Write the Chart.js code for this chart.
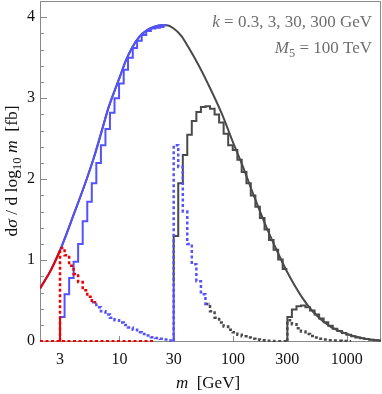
<!DOCTYPE html>
<html>
<head>
<meta charset="utf-8">
<script src="https://cdn.jsdelivr.net/npm/chart.js@4.4.0/dist/chart.umd.min.js"></script>
<style>
  html, body { margin: 0; padding: 0; background: #fff; }
</style>
</head>
<body>
<canvas id="chart" width="382" height="394"></canvas>
<script>
// smooth continuum curve (m in GeV, dsigma/dlog10 m in fb)
const envM = [2, 2.5, 3, 4, 5, 6, 7, 8, 10, 11.5, 13, 15, 17.5, 20, 23, 26, 30, 35, 40, 50, 60, 80, 100, 120, 150, 200, 250, 300, 400, 500, 700, 1000, 1400, 2000];
const envY = [0.65, 0.88, 1.12, 1.58, 1.95, 2.28, 2.6, 2.88, 3.25, 3.48, 3.63, 3.76, 3.84, 3.88, 3.9, 3.9, 3.86, 3.77, 3.64, 3.40, 3.18, 2.80, 2.45, 2.18, 1.82, 1.38, 1.08, 0.85, 0.55, 0.37, 0.19, 0.09, 0.035, 0.005];

// histogram bin edges
const edges3 = [3, 3.29, 3.61, 3.95, 4.33, 4.75, 5.21, 5.71, 6.26, 6.87, 7.53, 8.25, 9.05, 9.92, 10.9, 11.9, 13.1, 14.3, 15.7, 17.2, 18.9, 20.7, 22.7, 24.9, 27.3, 30];
const edges30 = [30, 32.9, 36.1, 39.5, 43.3, 47.5, 52.1, 57.1, 62.6, 68.7, 75.3, 82.5, 90.5, 99.2, 109, 119, 131, 143, 157, 172, 189, 207, 227, 249, 273, 300];
const edges300 = [300, 329, 361, 395, 433, 475, 521, 571, 626, 687, 753, 825, 905, 992, 1090, 1190, 1310, 1430, 1570, 1720, 1890, 2070];

// solid step histograms
const step3 = [0.3, 0.58, 0.78, 0.98, 1.2, 1.48, 1.72, 1.95, 2.2, 2.42, 2.62, 2.82, 3.0, 3.18, 3.35, 3.5, 3.62, 3.71, 3.78, 3.83, 3.86, 3.87, 3.88];
const step30 = [1.3, 1.95, 2.3, 2.55, 2.72, 2.83, 2.89, 2.9, 2.87, 2.8, 2.7, 2.56, 2.42, 2.36, 2.24, 2.09, 1.95, 1.8, 1.66, 1.52, 1.38, 1.25, 1.13, 1.01, 0.89];
const step300 = [0.3, 0.39, 0.43, 0.44, 0.42, 0.38, 0.33, 0.28, 0.235, 0.19, 0.155, 0.125, 0.1, 0.078, 0.06, 0.046, 0.035, 0.026, 0.018, 0.012, 0.007];

// dotted histograms
const dotRed3 = [1.15, 1.06, 0.93, 0.83, 0.73, 0.63, 0.55, 0.48];
const dotBlue3 = [0.48, 0.42, 0.37, 0.33, 0.29, 0.26, 0.23, 0.2, 0.17, 0.14, 0.11, 0.09, 0.07, 0.05, 0.04, 0.03, 0.02, 0.01];
const dotBlue30 = [2.42, 2.15, 1.6, 1.2, 0.95, 0.74, 0.58, 0.46];
const dotGray30 = [0.46, 0.37, 0.29, 0.23, 0.18, 0.14, 0.11, 0.08, 0.06, 0.045, 0.03, 0.02, 0.012, 0.006, 0.003, 0, 0, 0];
const dotGray300 = [0.26, 0.21, 0.16, 0.12, 0.09, 0.065, 0.045, 0.03, 0.02, 0.013, 0.008, 0.005, 0.003, 0];

// jumps at the thresholds
const jump3 = [0, 0.3];
const jump30 = [0, 0.72];
const zeroM = [2, 20];

const xTicks = [3, 10, 30, 100, 300, 1000];
const yTicks = [0, 1, 2, 3, 4];

const RED = '#f00000', BLUE = '#5252ff', GRAY = '#4a4a4a';

function curve(ms, ys) {
  return ms.map((m, i) => ({x: m, y: ys[i]}));
}
// stepped histogram: value i covers edges[i]..edges[i+1]
function hist(edges, vals, start, offset) {
  offset = offset || 0;
  const pts = [];
  if (start !== undefined) pts.push({x: edges[offset], y: start});
  vals.forEach((v, i) => pts.push({x: edges[offset + i], y: v}));
  pts.push({x: edges[offset + vals.length], y: vals[vals.length - 1]});
  return pts;
}

const iBlueEnd = envM.indexOf(26);
const iRedEnd = envM.indexOf(3);

function ds(data, color, opts) {
  return Object.assign({
    data: data, borderColor: color, borderWidth: 2, pointRadius: 0,
    fill: false, borderCapStyle: 'butt', borderJoinStyle: 'miter'
  }, opts);
}
const dotted = {borderDash: [3, 2.5], borderWidth: 2.5, stepped: 'before'};

const datasets = [
  ds(curve(jump3.map(() => 3), jump3), RED, {order: 0}),
  ds(hist(edges3, dotRed3, 0), RED, Object.assign({order: 1}, dotted)),
  ds(curve(envM.slice(0, iRedEnd + 1), envY.slice(0, iRedEnd + 1)), RED, {order: 2, cubicInterpolationMode: 'monotone'}),
  ds(curve(zeroM, [0, 0]), RED, Object.assign({order: 3}, dotted)),
  ds(hist(edges3, step3, jump3[1]), BLUE, {order: 5, stepped: 'before'}),
  ds(hist(edges3, dotBlue3, undefined, 7), BLUE, Object.assign({order: 6}, dotted)),
  ds(hist(edges30, dotBlue30, 0), BLUE, Object.assign({order: 7}, dotted)),
  ds(curve(jump30.map(() => 30), jump30), BLUE, {order: 8}),
  ds(curve(envM.slice(0, iBlueEnd + 1), envY.slice(0, iBlueEnd + 1)), BLUE, {order: 9, cubicInterpolationMode: 'monotone'}),
  ds(hist(edges30, step30, jump30[1]), GRAY, {order: 10, stepped: 'before'}),
  ds(hist(edges30, dotGray30, undefined, 7), GRAY, Object.assign({order: 11}, dotted)),
  ds(hist(edges300, step300, 0), GRAY, {order: 12, stepped: 'before'}),
  ds(hist(edges300, dotGray300, 0), GRAY, Object.assign({order: 13}, dotted)),
  ds(curve(envM, envY), GRAY, {order: 14, cubicInterpolationMode: 'monotone'})
];

const SERIF = '"Liberation Serif", "DejaVu Serif", serif';

// draws pieces of text [str, style] starting at x, returns end x
function pieces(ctx, parts, x, y, size) {
  parts.forEach(p => {
    const sub = p[1] === 'sub';
    const it = p[1] === 'i' ? 'italic ' : '';
    const fs = sub ? size * 0.72 : size;
    ctx.font = it + fs + 'px ' + SERIF;
    ctx.fillText(p[0], x, sub ? y + size * 0.25 : y);
    x += ctx.measureText(p[0]).width;
  });
  return x;
}
function width(ctx, parts, size) {
  let w = 0;
  parts.forEach(p => {
    const sub = p[1] === 'sub';
    ctx.font = (p[1] === 'i' ? 'italic ' : '') + (sub ? size * 0.72 : size) + 'px ' + SERIF;
    w += ctx.measureText(p[0]).width;
  });
  return w;
}

const frame = {
  id: 'frame',
  beforeDatasetsDraw(chart) {
    const {ctx, chartArea: a, scales: {x, y}} = chart;
    ctx.save();
    ctx.strokeStyle = '#8a8a8a';
    ctx.lineWidth = 1;
    ctx.strokeRect(a.left + 0.5, a.top + 0.5, a.right - a.left - 1, a.bottom - a.top - 1);
    ctx.beginPath();
    for (let v = 0; v <= 4.2; v += 0.2) {
      const py = Math.round(y.getPixelForValue(v)) + 0.5;
      const major = Math.abs(v - Math.round(v)) < 1e-6;
      ctx.moveTo(a.left, py);
      ctx.lineTo(a.left + (major ? 7 : 4), py);
    }
    xTicks.forEach(v => {
      const px = Math.round(x.getPixelForValue(v)) + 0.5;
      ctx.moveTo(px, a.bottom);
      ctx.lineTo(px, a.bottom - 6);
    });
    ctx.stroke();
    ctx.restore();
  },
  afterDraw(chart) {
    const {ctx} = chart;
    ctx.save();
    ctx.fillStyle = '#111';
    ctx.textBaseline = 'alphabetic';
    // y axis title
    const yl = [['d', ''], ['\u03c3', 'i'], [' / d log', ''], ['10', 'sub'], [' ', ''], ['m', 'i'], ['  [fb]', '']];
    ctx.translate(17, 171);
    ctx.rotate(-Math.PI / 2);
    pieces(ctx, yl, -width(ctx, yl, 17.5) / 2, 0, 17.5);
    ctx.setTransform(1, 0, 0, 1, 0, 0);
    // x axis title
    const xl = [['m', 'i'], ['  [GeV]', '']];
    pieces(ctx, xl, 208 - width(ctx, xl, 17) / 2, 388, 17);
    // annotation
    ctx.fillStyle = '#6e6e6e';
    const t1 = [['k', 'i'], [' = 0.3, 3, 30, 300 GeV', '']];
    pieces(ctx, t1, 372 - width(ctx, t1, 17), 27, 17);
    const t2 = [['M', 'i'], ['5', 'sub'], [' = 100 TeV', '']];
    pieces(ctx, t2, 372 - width(ctx, t2, 17), 53, 17);
    ctx.restore();
  }
};

new Chart(document.getElementById('chart').getContext('2d'), {
  type: 'line',
  data: {datasets: datasets},
  options: {
    responsive: false,
    animation: false,
    events: [],
    layout: {padding: {top: 1, right: 1, left: 0, bottom: 0}},
    plugins: {legend: {display: false}, tooltip: {enabled: false}},
    scales: {
      x: {
        type: 'logarithmic', min: 2, max: 2000,
        grid: {display: false, drawTicks: false},
        border: {display: false},
        afterBuildTicks: s => { s.ticks = xTicks.map(v => ({value: v})); },
        afterFit: s => { s.height = 52; s.paddingLeft = 0; s.paddingRight = 0; },
        ticks: {
          autoSkip: false, maxRotation: 0, padding: 8,
          color: '#111', font: {family: SERIF, size: 16},
          callback: v => String(v)
        }
      },
      y: {
        type: 'linear', min: -0.01, max: 4.2,
        grid: {display: false, drawTicks: false},
        border: {display: false},
        afterBuildTicks: s => { s.ticks = yTicks.map(v => ({value: v})); },
        afterFit: s => { s.width = 40; s.paddingTop = 0; s.paddingBottom = 0; },
        ticks: {
          padding: 5,
          color: '#111', font: {family: SERIF, size: 16},
          callback: v => String(v)
        }
      }
    }
  },
  plugins: [frame]
});
</script>
</body>
</html>
